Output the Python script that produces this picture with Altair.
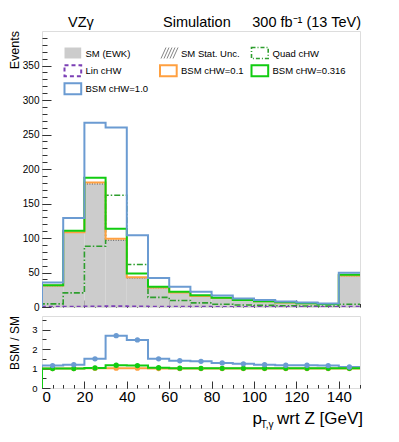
import altair as alt
import pandas as pd

# ---------------- data ----------------
edges = [0, 10, 20, 30, 40, 50, 60, 70, 80, 90, 100, 110, 120, 130, 140, 150]
sm = [31, 108, 178.5, 97, 42, 28, 21, 16, 12.9, 9.9, 8.3, 6.6, 5.3, 4.2, 45.6]
quad = [4.5, 20.5, 88, 162, 61.5, 14, 9.4, 6, 4, 3, 2.3, 1.8, 1.4, 1.2, 4]
lin = [0.3, 0.5, 0.8, 1.0, 0.8, 0.4, 0.3, 0.2, 0.1, 0.1, 0.1, 0.1, 0.1, 0.1, 0.2]
bsm_01 = [31.1, 108.3, 180.5, 99, 43, 28.2, 21.1, 16.1, 13.0, 10.0, 8.4, 6.7, 5.4, 4.3, 45.8]
bsm_0316 = [31.6, 110.5, 187.5, 113.5, 48.5, 29.5, 22, 17.2, 13.3, 10.2, 8.5, 6.8, 5.4, 4.3, 46.8]
bsm_10 = [35.5, 129, 267, 260, 104, 42, 29.4, 22, 16.7, 12.3, 10.3, 8.0, 6.4, 5.0, 49.5]

ratio_01 = [1.0, 1.0, 1.01, 1.02, 1.02, 1.0, 1.0, 1.0, 1.0, 1.0, 1.0, 1.0, 1.0, 1.0, 1.0]
ratio_0316 = [1.0, 1.0, 1.03, 1.17, 1.15, 1.04, 1.02, 1.01, 1.01, 1.01, 1.01, 1.01, 1.01, 1.01, 1.01]
ratio_10 = [1.15, 1.2, 1.5, 2.69, 2.47, 1.5, 1.4, 1.37, 1.29, 1.24, 1.2, 1.17, 1.17, 1.15, 1.08]

main_y_ticks = [0, 50, 100, 150, 200, 250, 300, 350]
main_y_minor = list(range(0, 400, 10))
x_ticks = [0, 20, 40, 60, 80, 100, 120, 140]
x_minor = list(range(0, 155, 5))
ratio_y_ticks = [0, 1, 2, 3]

legend_entries = ["SM (EWK)", "SM Stat. Unc.", "Quad cHW", "Lin cHW",
                  "BSM cHW=0.1", "BSM cHW=0.316", "BSM cHW=1.0"]

# ---------------- style ----------------
FONT = "Liberation Sans"
C_GREY = "#cccccc"
C_BLUE = "#6b9bd2"
C_ORANGE = "#ffa040"
C_GREEN = "#11cc11"
C_QUAD = "#2e9e2e"
C_LIN = "#7b3fb5"
W, H_MAIN, H_RATIO = 318, 276, 72


def steps(vals):
    xs, ys = [edges[0]], [0]
    for i, v in enumerate(vals):
        xs += [edges[i], edges[i + 1]]
        ys += [v, v]
    return pd.DataFrame({"x": xs, "y": ys, "i": list(range(len(xs)))})


def bins(vals):
    return pd.DataFrame({"lo": edges[:-1], "hi": edges[1:], "v": vals,
                         "c": [(a + b) / 2 for a, b in zip(edges[:-1], edges[1:])],
                         "zero": [0] * len(vals)})


xscale = alt.Scale(domain=[0, 150], nice=False, zero=False)
yscale_main = alt.Scale(domain=[0, 400], nice=False)
yscale_ratio = alt.Scale(domain=[0, 3.7], nice=False)

ax_x_main = alt.Axis(values=x_ticks, orient="bottom", offset=-7, tickSize=7, labels=False,
                     domain=False, grid=False, title=None, tickColor="#333")
ax_y_main = alt.Axis(values=main_y_ticks, orient="left", offset=-9, tickSize=9, domain=False,
                     grid=False, title=None, labelPadding=3, labelFontSize=10, labelFont=FONT,
                     labelColor="#000", tickColor="#333")
ax_x_minor = alt.Axis(values=x_minor, orient="bottom", offset=-3.5, tickSize=3.5, labels=False,
                      domain=False, grid=False, title=None, tickColor="#333")
ax_y_minor = alt.Axis(values=main_y_minor, orient="left", offset=-5, tickSize=5, labels=False,
                      domain=False, grid=False, title=None, tickColor="#333")
ax_x_ratio = alt.Axis(values=x_ticks, orient="bottom", offset=-7, tickSize=7, domain=False,
                      grid=False, title=None, labelPadding=1, labelFontSize=15, labelFont=FONT,
                      labelColor="#000", tickColor="#333")
ax_y_ratio = alt.Axis(values=ratio_y_ticks, orient="left", offset=-8, tickSize=8, domain=False,
                      grid=False, title=None, labelPadding=5, labelFontSize=9.5, labelFont=FONT,
                      labelColor="#000", tickColor="#333")
ax_y_ratio_minor = alt.Axis(values=[0.5, 1.5, 2.5, 3.5], orient="left", offset=-4, tickSize=4,
                            labels=False, domain=False, grid=False, title=None, tickColor="#333")


def step_line(vals, color, width=2.0, dash=None, ys=yscale_main, yax=ax_y_main, xax=ax_x_main):
    kw = dict(color=color, strokeWidth=width, clip=True)
    if dash:
        kw["strokeDash"] = dash
    return alt.Chart(steps(vals)).mark_line(**kw).encode(
        x=alt.X("x:Q", scale=xscale, axis=xax),
        y=alt.Y("y:Q", scale=ys, axis=yax),
        order=alt.Order("i:Q"),
    )


dummy = pd.DataFrame({"a": [0]})


def text(s, x, y, size, align="left", angle=0, baseline="alphabetic"):
    return alt.Chart(dummy).mark_text(text=s, font=FONT, fontSize=size, align=align,
                                      angle=angle, baseline=baseline, color="#000").encode(
        x=alt.value(x), y=alt.value(y))


# ---------------- main panel ----------------
sm_fill = alt.Chart(bins(sm)).mark_rect(color=C_GREY).encode(
    x=alt.X("lo:Q", scale=xscale, axis=ax_x_main), x2="hi:Q",
    y=alt.Y("v:Q", scale=yscale_main, axis=ax_y_main), y2="zero:Q")
stat_rule = alt.Chart(bins(sm)).mark_rule(color="#555", strokeDash=[1, 1.5], strokeWidth=1.2).encode(
    x=alt.X("lo:Q", scale=xscale, axis=ax_x_main), x2="hi:Q",
    y=alt.Y("v:Q", scale=yscale_main, axis=ax_y_main))

# legend (laid out in columns/rows)
col_x = [22.5, 118, 209.5]
row_y = [22, 39.7, 57.8]
SW, SH = 16.7, 11
legend_style = [
    dict(fill=C_GREY, strokeWidth=0),
    None,
    dict(fill="white", fillOpacity=0, stroke=C_QUAD, strokeWidth=1.6, strokeDash=[4, 2, 1, 2]),
    dict(fill="white", fillOpacity=0, stroke=C_LIN, strokeWidth=2, strokeDash=[4, 3]),
    dict(fill="white", fillOpacity=0, stroke=C_ORANGE, strokeWidth=2),
    dict(fill="white", fillOpacity=0, stroke=C_GREEN, strokeWidth=2),
    dict(fill="white", fillOpacity=0, stroke=C_BLUE, strokeWidth=2),
]
legend_layers = []
for k, (lab, st) in enumerate(zip(legend_entries, legend_style)):
    c, r = k % 3, k // 3
    x0, yc = col_x[c], row_y[r]
    if st is None:
        for j in range(5):
            xa = x0 + 1 + j * 3
            legend_layers.append(alt.Chart(dummy).mark_rule(color="#666", strokeWidth=0.8).encode(
                x=alt.value(xa), y=alt.value(yc + SH / 2), x2=alt.value(xa + 5), y2=alt.value(yc - SH / 2)))
    else:
        legend_layers.append(alt.Chart(dummy).mark_rect(**st).encode(
            x=alt.value(x0), x2=alt.value(x0 + SW), y=alt.value(yc - SH / 2), y2=alt.value(yc + SH / 2)))
    legend_layers.append(text(lab, x0 + 21, yc + 3.5, 9.5))

main_inner = alt.layer(
    sm_fill, stat_rule,
    step_line(quad, C_QUAD, 1.6, [6, 2, 1.5, 2]),
    step_line(lin, C_LIN, 2, [4, 3]),
    step_line(bsm_01, C_ORANGE, 2),
    step_line(bsm_0316, C_GREEN, 2),
    step_line(bsm_10, C_BLUE, 2),
    *legend_layers,
    text("VZγ", 26, -4, 14.5),
    text("Simulation", 121, -4, 14.5),
    text("300 fb⁻¹ (13 TeV)", 319, -4, 14.5, align="right"),
    text("Events", -27, 0, 12.5, align="right", angle=270, baseline="middle"),
)
main_minor = alt.Chart(steps(sm)).mark_point(opacity=0).encode(
    x=alt.X("x:Q", scale=xscale, axis=ax_x_minor),
    y=alt.Y("y:Q", scale=yscale_main, axis=ax_y_minor))
main = alt.layer(main_inner, main_minor).resolve_axis(x="independent", y="independent").properties(
    width=W, height=H_MAIN)


# ---------------- ratio panel ----------------
def ratio_pts(vals, color):
    return alt.Chart(bins(vals)).mark_circle(color=color, size=28, opacity=1).encode(
        x=alt.X("c:Q", scale=xscale, axis=ax_x_ratio),
        y=alt.Y("v:Q", scale=yscale_ratio, axis=ax_y_ratio))


def ratio_line(vals, color):
    return step_line(vals, color, 2, None, yscale_ratio, ax_y_ratio, ax_x_ratio)


ratio_inner = alt.layer(
    ratio_line(ratio_10, C_BLUE),
    ratio_line(ratio_01, C_ORANGE),
    ratio_line(ratio_0316, C_GREEN),
    ratio_pts(ratio_01, C_ORANGE),
    ratio_pts(ratio_0316, C_GREEN),
    ratio_pts(ratio_10, C_BLUE),
    text("BSM / SM", -27, 0, 12, align="right", angle=270, baseline="middle"),
    text("wrt Z [GeV]", 321, H_RATIO + 36, 17, align="right"),
    text("T,γ", 231.5, H_RATIO + 40, 10, align="right"),
    text("p", 220, H_RATIO + 36, 17, align="right"),
)
ratio_minor = alt.Chart(steps(ratio_10)).mark_point(opacity=0).encode(
    x=alt.X("x:Q", scale=xscale, axis=ax_x_minor),
    y=alt.Y("y:Q", scale=yscale_ratio, axis=ax_y_ratio_minor))
ratio = alt.layer(ratio_inner, ratio_minor).resolve_axis(x="independent", y="independent").properties(
    width=W, height=H_RATIO)

chart = alt.vconcat(main, ratio, spacing=2).properties(
    padding={"left": 0, "top": 6, "right": 5, "bottom": 0}
).configure_view(stroke="#333", strokeWidth=1.5).configure(background="white")

chart.save("out.html", embed_options={"renderer": "svg", "actions": False})
